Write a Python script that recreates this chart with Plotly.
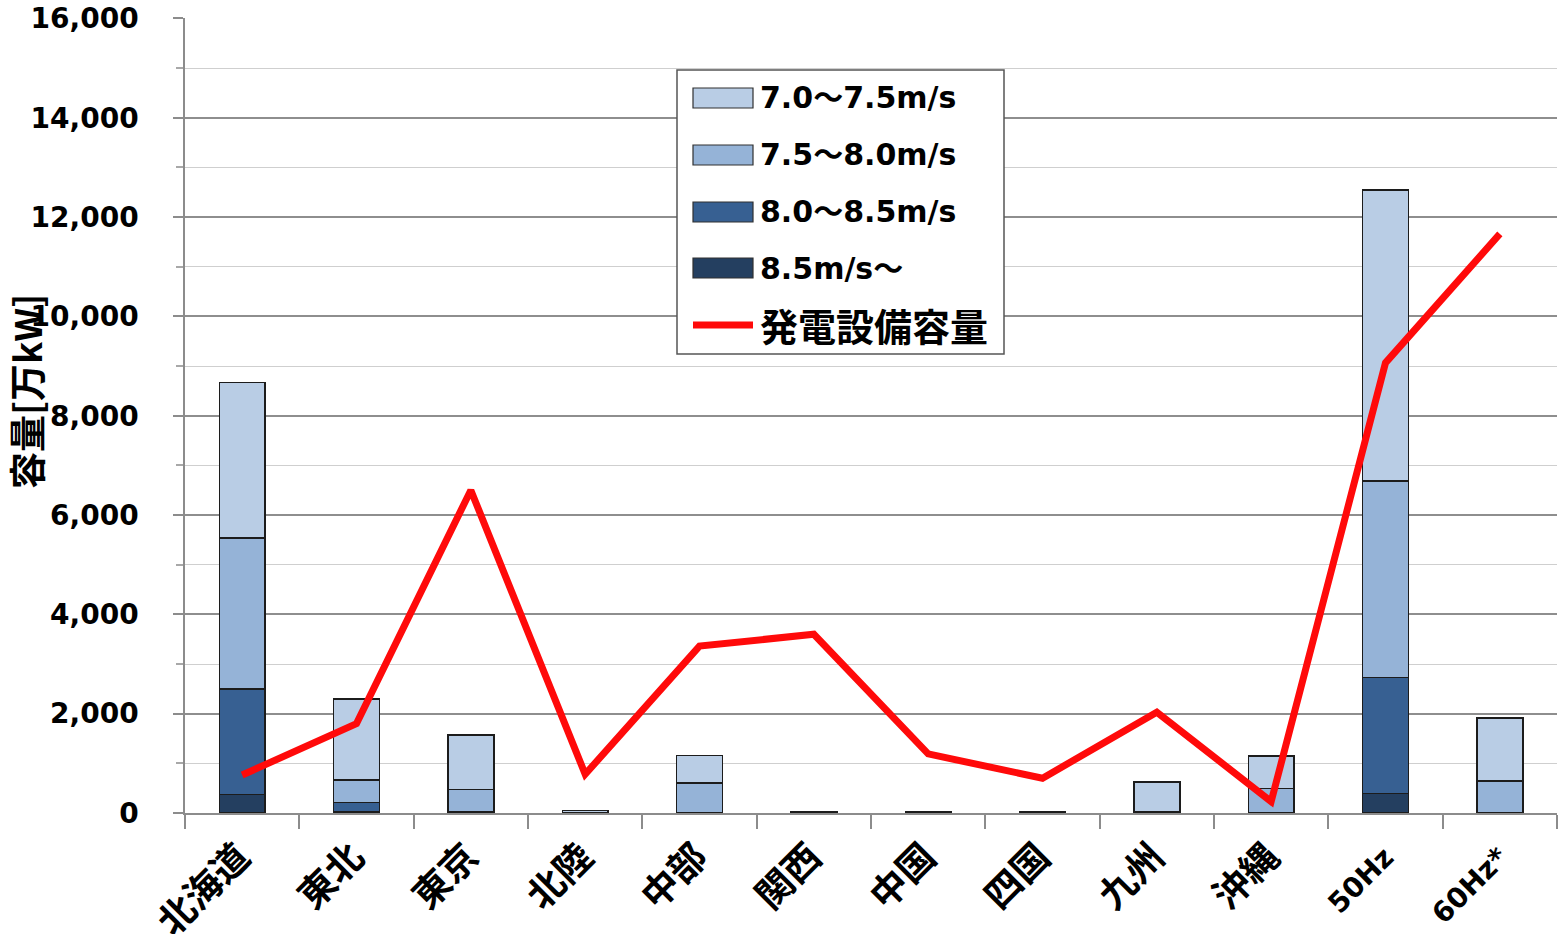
import plotly.graph_objects as go

# Regions / frequency areas on the category axis
regions = ["北海道", "東北", "東京", "北陸", "中部", "関西", "中国", "四国", "九州", "沖縄", "50Hz", "60Hz*"]

# Wind-potential capacity by mean wind speed band [万kW]
speed_85_up = [370, 20, 0, 0, 0, 0, 0, 0, 0, 0, 390, 0]
speed_80_85 = [2130, 190, 20, 0, 0, 0, 0, 0, 0, 0, 2340, 0]
speed_75_80 = [3040, 460, 450, 10, 600, 5, 5, 5, 20, 490, 3950, 645]
speed_70_75 = [3130, 1630, 1100, 40, 560, 20, 20, 20, 610, 660, 5860, 1270]

# Installed generating capacity [万kW]
installed = [765, 1800, 6500, 780, 3360, 3600, 1190, 700, 2030, 230, 9065, 11660]

band_names = ["7.0～7.5m/s", "7.5～8.0m/s", "8.0～8.5m/s", "8.5m/s～"]
line_name = "発電設備容量"
band_colors = ["#b9cde5", "#95b3d7", "#376092", "#243f60"]
line_color = "#ff0a0a"

FONT = "DejaVu Sans, Noto Sans CJK JP, sans-serif"
CJK = "Noto Sans CJK JP, sans-serif"

fig = go.Figure()

# stacked from the strongest wind band at the bottom upward
stack = [
    (speed_85_up, band_names[3], band_colors[3]),
    (speed_80_85, band_names[2], band_colors[2]),
    (speed_75_80, band_names[1], band_colors[1]),
    (speed_70_75, band_names[0], band_colors[0]),
]
for vals, name, col in stack:
    fig.add_trace(go.Bar(
        x=regions, y=vals, name=name,
        marker=dict(color=col, line=dict(color="#1c1c1c", width=1.6)),
        showlegend=False,
    ))

fig.add_trace(go.Scatter(
    x=regions, y=installed, name=line_name, mode="lines",
    line=dict(color=line_color, width=7),
    showlegend=False,
))

# plot-area geometry in pixels, used to place the boxed key
W, H = 1561, 934
ML, MR, MT, MB = 185, 4, 18, 121
PW, PH = W - ML - MR, H - MT - MB


def px_x(px):
    return (px - ML) / PW


def px_y(py):
    return (H - MB - py) / PH


shapes = []
annotations = []

# key box
shapes.append(dict(type="rect", xref="paper", yref="paper",
                   x0=px_x(677), x1=px_x(1004), y0=px_y(354), y1=px_y(70),
                   fillcolor="white", line=dict(color="#555555", width=1.5),
                   layer="above"))
row_y = [98, 155, 212, 268]
for name, col, ry in zip(band_names, band_colors, row_y):
    shapes.append(dict(type="rect", xref="paper", yref="paper",
                       x0=px_x(693), x1=px_x(753), y0=px_y(ry + 10), y1=px_y(ry - 10),
                       fillcolor=col, line=dict(color="#303030", width=1.2),
                       layer="above"))
    annotations.append(dict(xref="paper", yref="paper", x=px_x(758), y=px_y(ry),
                            xanchor="left", yanchor="middle", showarrow=False,
                            text=name,
                            font=dict(family=FONT, size=30, color="black", weight="bold")))
shapes.append(dict(type="line", xref="paper", yref="paper",
                   x0=px_x(693), x1=px_x(753), y0=px_y(325), y1=px_y(325),
                   line=dict(color=line_color, width=7), layer="above"))
annotations.append(dict(xref="paper", yref="paper", x=px_x(758), y=px_y(324),
                        xanchor="left", yanchor="middle", showarrow=False,
                        text=line_name,
                        font=dict(family=CJK, size=38, color="black", weight="bold")))

# vertical axis title
annotations.append(dict(xref="paper", yref="paper", x=px_x(26), y=px_y(392),
                        xanchor="center", yanchor="middle", showarrow=False,
                        textangle=-90, text="容量[万kW]",
                        font=dict(family=CJK, size=37, color="black", weight="bold")))


# CJK category names are set larger than the Latin ones
def tick_label(s):
    if s.isascii():
        return s
    return f'<span style="font-family:Noto Sans CJK JP;font-size:37px">{s}</span>'


fig.update_layout(
    width=W, height=H,
    margin=dict(l=ML, r=MR, t=MT, b=MB, autoexpand=False),
    barmode="stack", bargap=0.6,
    plot_bgcolor="white", paper_bgcolor="white",
    showlegend=False,
    shapes=shapes, annotations=annotations,
    font=dict(family=FONT, color="black"),
)

fig.update_xaxes(
    type="category", tickson="boundaries", automargin=False,
    tickmode="array", tickvals=regions, ticktext=[tick_label(r) for r in regions],
    ticks="outside", ticklen=14, tickwidth=1.5, tickcolor="#8c8c8c",
    showline=True, linecolor="#8c8c8c", linewidth=1.5,
    showgrid=False, tickangle=-45, ticklabelstandoff=15,
    tickfont=dict(family=FONT, size=28, color="black", weight="bold"),
)

fig.update_yaxes(
    range=[0, 16008], dtick=2000, tickformat=",d", automargin=False,
    showgrid=True, gridcolor="#8e8e8e", gridwidth=1.5,
    ticks="outside", ticklen=10, tickwidth=1.5, tickcolor="#8c8c8c",
    showline=True, linecolor="#8c8c8c", linewidth=1.5,
    zeroline=False, ticklabelstandoff=29,
    tickfont=dict(family=FONT, size=28, color="black", weight="bold"),
    minor=dict(dtick=1000, showgrid=True, gridcolor="#cfcfcf", gridwidth=1.2,
               ticks="outside", ticklen=7, tickcolor="#a8a8a8"),
)

fig.write_html("out.html")
